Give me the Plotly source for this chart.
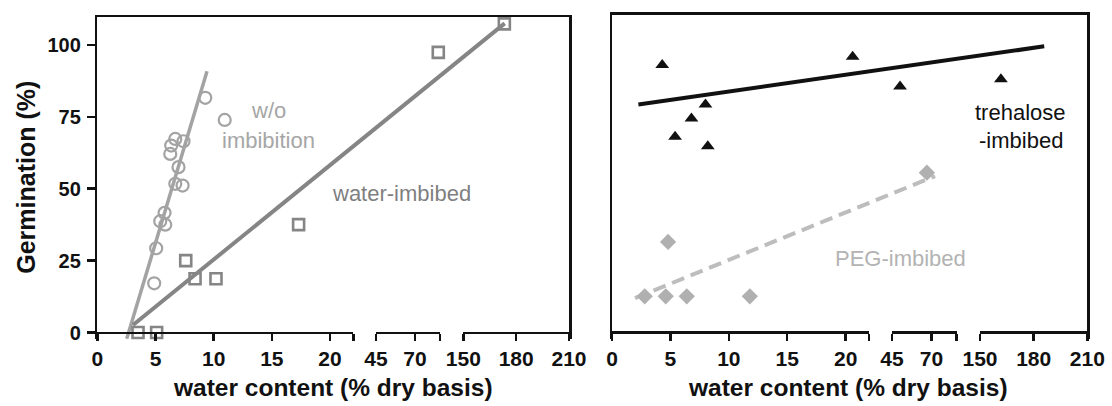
import plotly.graph_objects as go

W, H = 1112, 406

# ---------------- data ----------------
wo_x = [9.28, 10.95, 6.70, 7.41, 6.35, 6.27, 6.98, 6.70, 7.33, 5.78, 5.41, 5.84, 5.06, 4.89]
wo_y = [81.6, 73.9, 67.3, 66.5, 65.0, 62.1, 57.5, 51.7, 51.1, 41.6, 38.7, 37.5, 29.3, 17.1]
water_x = [3.5, 5.1, 7.6, 8.4, 10.2, 17.3, 84.9, 173.3]
water_y = [0, 0, 25.0, 18.7, 18.7, 37.5, 97.4, 107.3]
treh_x = [4.3, 20.6, 50.1, 161.7, 8.0, 6.8, 5.4, 8.2]
treh_y = [92.9, 95.8, 85.4, 88.0, 79.2, 74.3, 68.0, 64.7]
peg_x = [2.8, 4.6, 6.4, 11.8, 4.8, 67.1]
peg_y = [12.5, 12.5, 12.5, 12.5, 31.4, 55.5]

wo_fit_x = [2.53, 9.43]
wo_fit_y = [-2.2, 90.8]
water_fit_x = [3.07, 173.5]
water_fit_y = [2.6, 107.5]
treh_fit_x = [2.26, 185.9]
treh_fit_y = [79.2, 99.4]
peg_fit_x = [1.97, 72.3]
peg_fit_y = [11.9, 54.3]

seg_ranges = [(0, 22), (45, 86), (150, 210)]
seg_ticks = [[0, 5, 10, 15, 20], [45, 70], [150, 180, 210]]
y_ticks = [0, 25, 50, 75, 100]

# ---------------- layout geometry (pixels) ----------------
left_segs_px = [(97.3, 353.3), (376.0, 440.0), (463.3, 569.0)]
right_segs_px = [(612.0, 869.0), (892.0, 956.7), (980.0, 1087.3)]
left_y = dict(rng=[-2.4, 109.6], top=17.3, bot=339.4, axis=332.5)
right_y = dict(rng=[-2.4, 110.4], top=14.7, bot=339.2, axis=332.3)

AX = '#111111'
FONT = 'Liberation Sans, Arial, sans-serif'


def px(v):
    return v / W


def py(v):
    return 1 - v / H


fig = go.Figure()
layout = dict(
    template='none',
    width=W, height=H, margin=dict(l=0, r=0, t=0, b=0, autoexpand=False),
    paper_bgcolor='white', plot_bgcolor='rgba(0,0,0,0)', showlegend=False,
)

axis_counter = [0]


def new_x():
    axis_counter[0] += 1
    n = axis_counter[0]
    return ('x' if n == 1 else f'x{n}'), ('xaxis' if n == 1 else f'xaxis{n}')


def build_panel(segs_px, ycfg, yname, ykey, show_yticks):
    P0, P1 = segs_px[0][0], segs_px[-1][1]
    # overlay axis across the whole panel (used for fit lines crossing the breaks + top border)
    ov_ref, ov_key = new_x()
    layout[ov_key] = dict(domain=[px(P0), px(P1)], range=[P0, P1], anchor=yname, side='top',
                          showline=True, linecolor=AX, linewidth=2.5, ticks='', showticklabels=False,
                          showgrid=False, zeroline=False, fixedrange=True, automargin=False)
    layout[ykey] = dict(
        domain=[py(ycfg['bot']), py(ycfg['top'])], range=ycfg['rng'], anchor=ov_ref,
        showline=True, mirror=True, linecolor=AX, linewidth=2.5, showgrid=False, zeroline=False,
        tickmode='array', tickvals=y_ticks if show_yticks else [],
        ticks='outside' if show_yticks else '', ticklen=8, tickwidth=2.5, tickcolor=AX,
        showticklabels=show_yticks, ticklabelstandoff=2, automargin=False, fixedrange=True,
        tickfont=dict(family=FONT, size=20, color=AX, weight='bold'),
    )
    fig.add_trace(go.Scatter(x=[None], y=[None], xaxis=ov_ref, yaxis=yname, hoverinfo='skip'))

    seg_refs = []
    for i, ((r0, r1), (d0, d1)) in enumerate(zip(seg_ranges, segs_px)):
        ref, key = new_x()
        tv = list(seg_ticks[i])
        tt = [str(t) for t in tv]
        if i < len(seg_ranges) - 1:
            tv.append(r1)
            tt.append('')
        layout[key] = dict(domain=[px(d0), px(d1)], range=[r0, r1], anchor='free',
                           position=py(ycfg['axis']), showline=True, linecolor=AX, linewidth=2.5,
                           tickmode='array', tickvals=tv, ticktext=tt, ticks='outside', ticklen=7,
                           tickwidth=2.5, tickcolor=AX, showgrid=False, zeroline=False,
                           tickfont=dict(family=FONT, size=21, color=AX, weight='bold'),
                           fixedrange=True, automargin=False)
        fig.add_trace(go.Scatter(x=[None], y=[None], xaxis=ref, yaxis=yname, hoverinfo='skip'))
        # inside caps at the break ends
        caps = []
        if i > 0:
            caps.append(r0)
        if i < len(seg_ranges) - 1:
            caps.append(r1)
        cref, ckey = new_x()
        layout[ckey] = dict(domain=[px(d0), px(d1)], range=[r0, r1], anchor='free',
                            position=py(ycfg['axis']), showline=False, tickmode='array',
                            tickvals=caps, ticks='inside', ticklen=6, tickwidth=2.5, tickcolor=AX,
                            showticklabels=False, showgrid=False, zeroline=False, fixedrange=True,
                            automargin=False)
        fig.add_trace(go.Scatter(x=[None], y=[None], xaxis=cref, yaxis=yname, hoverinfo='skip'))
        seg_refs.append(ref)

    def to_overlay(xs):
        out = []
        for x in xs:
            for (r0, r1), (d0, d1) in zip(seg_ranges, segs_px):
                if x <= r1 + 1e-9 or (r0, r1) == seg_ranges[-1]:
                    out.append(d0 + (x - r0) / (r1 - r0) * (d1 - d0))
                    break
        return out

    def seg_of(x):
        for i, (r0, r1) in enumerate(seg_ranges):
            if x <= r1:
                return i
        return len(seg_ranges) - 1

    return ov_ref, seg_refs, to_overlay, seg_of


def add_points(xs, ys, seg_refs, seg_of, yname, marker):
    groups = {}
    for x, y in zip(xs, ys):
        groups.setdefault(seg_of(x), ([], []))
        groups[seg_of(x)][0].append(x)
        groups[seg_of(x)][1].append(y)
    for i, (gx, gy) in groups.items():
        fig.add_trace(go.Scatter(x=gx, y=gy, mode='markers', marker=marker, cliponaxis=False,
                                 xaxis=seg_refs[i], yaxis=yname, hoverinfo='skip'))


# ---------------- left panel ----------------
ovL, segL, toOvL, segofL = build_panel(left_segs_px, left_y, 'y', 'yaxis', True)
fig.add_trace(go.Scatter(x=toOvL(wo_fit_x), y=wo_fit_y, mode='lines',
                         line=dict(color='#a3a3a3', width=3.5), xaxis=ovL, yaxis='y', hoverinfo='skip'))
fig.add_trace(go.Scatter(x=toOvL(water_fit_x), y=water_fit_y, mode='lines',
                         line=dict(color='#858585', width=4), xaxis=ovL, yaxis='y', hoverinfo='skip'))
add_points(wo_x, wo_y, segL, segofL, 'y',
           dict(symbol='circle-open', size=12, color='#a3a3a3', line=dict(width=2.2, color='#a3a3a3')))
add_points(water_x, water_y, segL, segofL, 'y',
           dict(symbol='square-open', size=11, color='#858585', line=dict(width=2.6, color='#858585')))

# ---------------- right panel ----------------
ovR, segR, toOvR, segofR = build_panel(right_segs_px, right_y, 'y2', 'yaxis2', False)
fig.add_trace(go.Scatter(x=toOvR(treh_fit_x), y=treh_fit_y, mode='lines',
                         line=dict(color='#111111', width=4), xaxis=ovR, yaxis='y2', hoverinfo='skip'))
fig.add_trace(go.Scatter(x=toOvR(peg_fit_x), y=peg_fit_y, mode='lines',
                         line=dict(color='#bdbdbd', width=4, dash='13px,7px'), xaxis=ovR, yaxis='y2',
                         hoverinfo='skip'))
add_points(treh_x, treh_y, segR, segofR, 'y2',
           dict(symbol='triangle-up', size=12, color='#111111', line=dict(width=0)))
add_points(peg_x, peg_y, segR, segofR, 'y2',
           dict(symbol='diamond', size=12.5, color='#b0b0b0', line=dict(width=0)))

# ---------------- text ----------------
ann = []


def text(s, x, y, color, size=22, bold=False, angle=0, family=FONT):
    ann.append(dict(text=s, x=px(x), y=py(y), xref='paper', yref='paper', showarrow=False,
                    xanchor='center', yanchor='middle', textangle=angle,
                    font=dict(family=family, size=size, color=color, weight='bold' if bold else 'normal')))


text('w/o', 268.3, 110.3, '#a6a6a6')
text('imbibition', 268.3, 140.6, '#a6a6a6')
text('water-imbibed', 401, 193.3, '#7f7f7f')
text('trehalose', 1020.8, 112.3, '#111111')
text('-imbibed', 1021, 140.6, '#111111')
text('PEG-imbibed', 900.8, 258.3, '#b3b3b3')
text('water content (% dry basis)', 332.8, 387, AX, size=24.5, bold=True)
text('water content (% dry basis)', 848, 387, AX, size=24.5, bold=True)
text('Germination (%)', 25.8, 177, AX, size=25, bold=True, angle=-90)

layout['annotations'] = ann
fig.update_layout(**layout)
fig.write_html('out.html', config={'displayModeBar': False, 'staticPlot': True},
               post_script="document.body.style.margin='0';document.body.style.overflow='hidden';")
